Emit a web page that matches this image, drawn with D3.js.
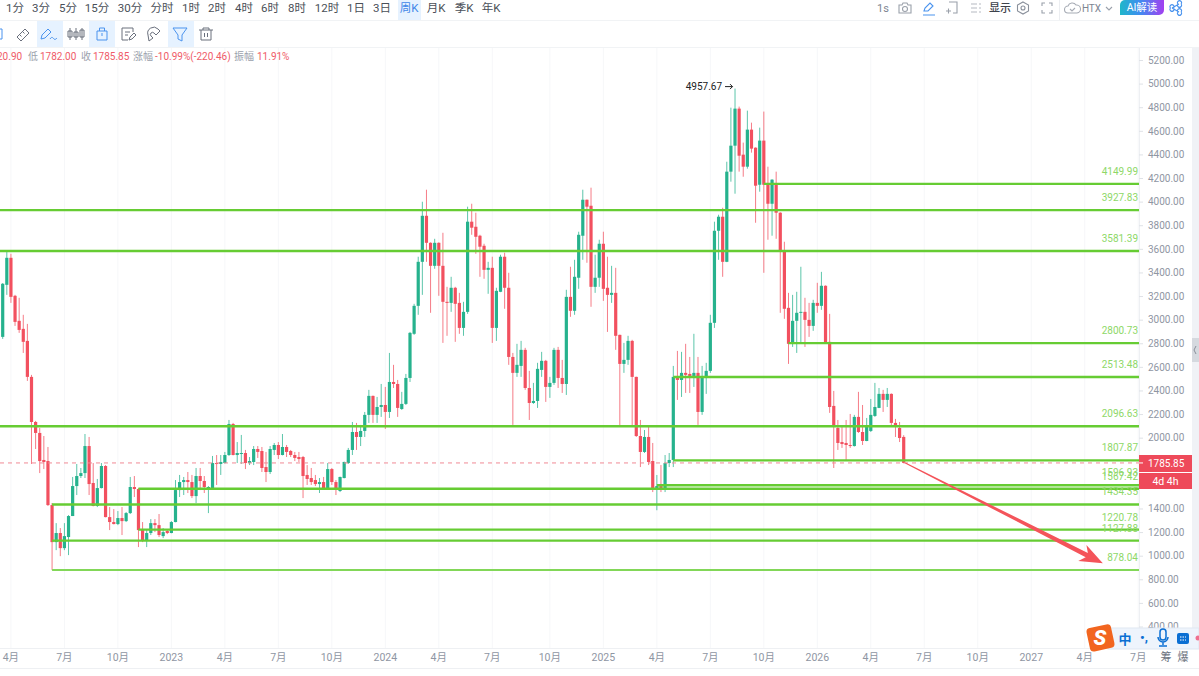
<!DOCTYPE html>
<html lang="zh">
<head>
<meta charset="utf-8">
<title>ETH 周K</title>
<script src="https://cdn.jsdelivr.net/npm/d3@7/dist/d3.min.js"></script>
<style>
html,body{margin:0;padding:0;background:#fff;overflow:hidden}
svg{display:block}
text{font-family:Roboto,"Noto Sans CJK SC",sans-serif}
</style>
</head>
<body>
<svg id="chart" width="1199" height="676"></svg>
<script>
// Weekly candles, oldest first
const opens = [
2854,3295,3524,3202,2990,2922,2820,2515,2133,2040,
1811,1802,1429,1115,1192,1064,1158,1336,1590,1675,
1700,1929,1616,1421,1573,1760,1327,1285,1268,1319,
1293,1361,1582,1565,1217,1132,1192,1276,1259,1166,
1209,1192,1285,1556,1624,1641,1624,1505,1675,1633,
1565,1573,1785,1777,1785,1853,2116,1853,1862,1870,
1785,1794,1904,1887,1751,1709,1896,1938,1853,1921,
1887,1853,1836,1836,1684,1658,1641,1607,1624,1573,
1734,1624,1548,1658,1785,1896,2048,2006,2057,2193,
2354,2193,2260,2277,2218,2472,2455,2243,2286,2506,
2880,3117,3490,3880,3651,3456,3651,3456,3151,3142,
3270,3142,2930,3066,3830,3787,3711,3626,3422,3439,
2930,3236,3533,3270,2684,2549,2608,2744,2421,2294,
2311,2574,2651,2430,2464,2744,2506,2455,3193,3075,
3355,3711,4016,3965,3278,3355,3643,3270,3210,3227,
2871,2625,2659,2820,2515,2014,1879,2006,1802,1573,
1590,1573,1785,1811,2515,2489,2549,2540,2523,2549,
2218,2515,2566,2973,3753,3872,3490,4254,4474,4788,
4398,4296,4610,4457,4143,4517,4152,3982,4152,3906,
3575,3100,2795,2990,3058,3066,2998,2947,3142,3117,
3287,2812,2269,2082,1963,1955,1938,1929,2176,2048,
1972,2057,2184,2252,2371,2320,2371,2125,2082,2006.31];
const closes = [
3304,3524,3193,2981,2913,2812,2515,2133,2040,1802,
1794,1429,1115,1192,1064,1166,1336,1590,1675,1700,
1929,1607,1421,1573,1760,1327,1285,1268,1319,1293,
1361,1582,1565,1217,1132,1192,1276,1259,1175,1200,
1192,1285,1556,1624,1641,1624,1505,1675,1633,1582,
1582,1785,1777,1794,1853,2116,1853,1870,1870,1785,
1802,1904,1879,1743,1709,1904,1938,1853,1921,1879,
1853,1828,1819,1675,1650,1624,1607,1624,1573,1734,
1624,1573,1667,1794,1896,2048,2006,2057,2193,2354,
2193,2260,2277,2218,2472,2455,2252,2286,2506,2888,
3117,3490,3880,3651,3456,3651,3456,3151,3142,3270,
3134,2930,3066,3830,3779,3702,3618,3422,3439,2930,
3244,3533,3270,2684,2549,2617,2744,2421,2294,2311,
2583,2651,2430,2464,2744,2506,2455,3193,3075,3363,
3719,4016,3957,3278,3355,3643,3261,3210,3227,2863,
2625,2659,2820,2515,2014,1879,2006,1794,1573,1590,
1573,1785,1811,2515,2489,2549,2532,2523,2549,2218,
2515,2566,2973,3753,3872,3490,4254,4474,4788,4389,
4296,4610,4449,4135,4517,4143,3982,4186,3906,3584,
3092,2795,2990,3058,3066,2998,2947,3142,3117,3287,
2803,2260,2099,1955,1946,1938,1929,2176,2048,1972,
2099,2193,2260,2371,2320,2371,2125,2099,1997,1785.85];
const highs = [
3310,3575,3558,3210,3185,3041,2964,2532,2142,2082,
2014,1921,1446,1276,1234,1276,1344,1667,1777,1743,
2031,2006,1785,1650,1785,1768,1412,1395,1378,1412,
1370,1667,1675,1573,1285,1226,1310,1310,1353,1234,
1226,1293,1641,1684,1667,1709,1684,1743,1743,1675,
1590,1845,1853,1853,1879,2150,2125,1963,2023,1896,
1836,1929,1929,1921,1879,1929,1955,1963,2031,1938,
1896,1879,1879,1845,1768,1743,1684,1658,1667,1785,
1743,1641,1670,1797,1913,2133,2125,2108,2218,2405,
2357,2345,2455,2430,2718,2617,2489,2388,2540,2896,
3134,3533,3999,4101,3655,3685,3655,3736,3278,3363,
3278,3227,3151,3957,3982,3906,3719,3643,3490,3533,
3270,3550,3567,3397,2718,2795,2820,2761,2566,2464,
2634,2727,2659,2515,2761,2769,2659,3253,3448,3507,
3745,4101,4018,4118,3550,3677,3745,3533,3456,3439,
2873,2803,2863,2829,2517,2150,2065,2099,1955,1684,
1768,1853,1870,2608,2735,2727,2795,2684,2880,2684,
2608,2634,3041,3830,3889,3948,4338,4796,4957.67,4805,
4500,4771,4669,4460,4627,4763,4296,4190,4254,3910,
3660,3227,3210,3236,3448,3185,3142,3168,3312,3405,
3290,3049,2396,2150,2091,2150,2201,2193,2388,2277,
2167,2328,2464,2421,2405,2421,2375,2159,2133,2020.90];
const lows = [
2837,3210,3142,2947,2888,2718,2481,1777,1904,1700,
1734,1421,878,1047,996,1047,1005,1336,1514,1658,
1658,1514,1418,1412,1570,1325,1217,1265,1259,1175,
1285,1353,1497,1073,1115,1073,1175,1200,1158,1149,
1183,1190,1283,1497,1514,1531,1488,1446,1556,1531,
1361,1570,1599,1684,1782,1845,1850,1785,1777,1734,
1768,1768,1828,1709,1624,1692,1853,1819,1850,1836,
1836,1802,1794,1488,1599,1599,1590,1531,1570,1570,
1599,1514,1539,1655,1777,1853,1896,1929,2006,2125,
2125,2125,2176,2074,2167,2421,2176,2235,2277,2472,
2871,3041,3210,3490,3058,3431,3202,2803,2863,3066,
2812,2880,2863,3049,3719,3558,3363,3346,3219,2803,
2820,3233,3092,2617,2108,2515,2515,2405,2150,2286,
2252,2515,2303,2337,2447,2421,2379,2362,3024,3041,
3261,3507,3482,3109,3227,3278,3159,2896,3142,2744,
2091,2549,2617,2091,2006,1751,1870,1768,1539,1385,
1539,1539,1751,1751,2320,2345,2379,2379,2430,2108,
2193,2371,2549,2930,3507,3363,3487,4169,4067,4254,
4211,4279,4415,3821,4084,3397,3677,3711,3685,3058,
3007,2625,2769,2718,2803,2769,2854,2905,3058,3083,
2800,2210,1743,1896,1913,1811,1913,1925,2040,1938,
1970,2048,2176,2250,2218,2260,2091,2006,1963,1782];

// Horizontal support and resistance levels, with the candle each one starts from
const levelPrices = [4149.99,3927.83,3581.39,2800.73,2513.48,2096.63,1807.87,1596.93,1567.42,1434.35,1220.78,1127.88,878.04];
const levelStarts = [185,null,null,191,163,null,163,159,33,12,33,12,12];

// Axis contents
const priceTicks = d3.range(400,5201,200);
const timeTickIndex = [2,15,28,41,54,67,80,93,106,119,133,146,159,172,185,198,211,224,237,250,263,276];
const timeTickLabels = ["4月","7月","10月","2023","4月","7月","10月","2024","4月","7月","10月","2025","4月","7月","10月","2026","4月","7月","10月","2027","4月","7月"];

// Readouts
const lastPrice = 1785.85;
const peakPrice = 4957.67;
const peakIndex = 178;
const countdown = "4d 4h";
const periods = ["1分","3分","5分","15分","30分","分时","1时","2时","4时","6时","8时","12时","1日","3日","周K","月K","季K","年K"];
const periodCenters = [15,41,68,97,130,162,191,217,244,270,297,327,356,382,409,436,464,491];
const readoutParts = ["20.90","低","1782.00","收","1785.85","涨幅","-10.99%(-220.46)","振幅","11.91%"];
const readoutStarts = [-3,28,40,81,93,133,155,234,257];

// Projected move drawn over the chart
const projection = {fromIndex:219.4, fromPrice:1785.85, toIndex:267.4, toPrice:935};

const svg = d3.select("#chart");
const plotRight = 1139, axisBottom = 648;
const UP = "#26b28d", DOWN = "#f2505f", LEVEL = "#66cc33", LEVEL_TEXT = "#8ed868", AXIS_TEXT = "#8f96a3";

const x = d3.scaleLinear().domain([0,219]).range([2.7,903.7]);
const y = d3.scaleLinear().domain([400,5200]).range([626.5,60]);

svg.append("defs").append("clipPath").attr("id","plot")
  .append("rect").attr("x",0).attr("y",48).attr("width",plotRight).attr("height",axisBottom-48);
svg.append("linearGradient").attr("id","aiGrad")
  .selectAll("stop").data([["0%","#1fb7c9"],["45%","#3f8df0"],["100%","#a33ff0"]]).join("stop")
  .attr("offset",d=>d[0]).attr("stop-color",d=>d[1]);

// Vertical grid
svg.append("g").selectAll("line").data(timeTickIndex).join("line")
  .attr("x1",d=>x(d)).attr("x2",d=>x(d)).attr("y1",48).attr("y2",axisBottom)
  .attr("stroke","#f6f7f9");

// Candles
const candles = d3.range(closes.length).map(i=>({i,o:opens[i],h:highs[i],l:lows[i],c:closes[i]}));
const plot = svg.append("g").attr("clip-path","url(#plot)");
const candle = plot.append("g").selectAll("g").data(candles).join("g")
  .attr("fill",d=>d.c>=d.o?UP:DOWN).attr("stroke",d=>d.c>=d.o?UP:DOWN);
candle.append("line")
  .attr("x1",d=>x(d.i)).attr("x2",d=>x(d.i))
  .attr("y1",d=>y(d.h)).attr("y2",d=>y(d.l))
  .attr("stroke-width",1).attr("stroke-opacity",0.75);
candle.append("rect")
  .attr("x",d=>x(d.i)-1.6).attr("width",3.2)
  .attr("y",d=>y(Math.max(d.o,d.c)))
  .attr("height",d=>Math.max(1,Math.abs(y(d.o)-y(d.c))))
  .attr("stroke","none");

// Last price line
plot.append("line").attr("x1",0).attr("x2",plotRight).attr("y1",y(lastPrice)).attr("y2",y(lastPrice))
  .attr("stroke","#f08a94").attr("stroke-dasharray","4 4").attr("stroke-width",1);

// Levels with their labels
const levels = levelPrices.map((p,k)=>({p,start:levelStarts[k]}));
const level = svg.append("g").selectAll("g").data(levels).join("g");
level.append("line")
  .attr("x1",d=>d.start===null?0:x(d.start)).attr("x2",plotRight)
  .attr("y1",d=>y(d.p)).attr("y2",d=>y(d.p))
  .attr("stroke",d=>d.p<900?"#82d758":LEVEL)
  .attr("stroke-width",d=>d.p<900?2:2.4);
level.append("text")
  .attr("x",plotRight-1).attr("y",d=>y(d.p)-9)
  .attr("text-anchor","end").attr("font-size",10).attr("fill",LEVEL_TEXT)
  .text(d=>d.p.toFixed(2));

// Peak marker
const peakLabel = svg.append("g").attr("transform",`translate(${x(peakIndex)-1},${y(peakPrice)})`);
peakLabel.append("text").attr("x",-12).attr("y",1.5).attr("text-anchor","end")
  .attr("font-size",10).attr("fill","#222").text(peakPrice.toFixed(2));
peakLabel.append("path").attr("d","M-9 -2H-1.500M-4 -4.500L-1.500 -2L-4 .5").attr("fill","none").attr("stroke","#222");

// Projected move: a wedge widening into an arrow head
{
  const a=[x(projection.fromIndex),y(projection.fromPrice)], b=[x(projection.toIndex),y(projection.toPrice)];
  const len=Math.hypot(b[0]-a[0],b[1]-a[1]), u=[(b[0]-a[0])/len,(b[1]-a[1])/len], n=[-u[1],u[0]];
  const at=(t,w)=>[a[0]+u[0]*t+n[0]*w,a[1]+u[1]*t+n[1]*w];
  const neck=len-18;
  const pts=[at(0,-.5),at(neck,-2.4),at(len-23,-9),b,at(len-23,9),at(neck,2.4),at(0,.5)];
  svg.append("polygon").attr("points",pts.map(p=>p.join(",")).join(" ")).attr("fill","#f4545a");
}

// Price axis
svg.append("rect").attr("x",plotRight).attr("y",48).attr("width",53).attr("height",600).attr("fill","#fff");
svg.append("line").attr("x1",plotRight+.5).attr("x2",plotRight+.5).attr("y1",48).attr("y2",axisBottom).attr("stroke","#eef0f3");
const axisY = svg.append("g").attr("transform",`translate(${plotRight},0)`)
  .call(d3.axisRight(y).tickValues(priceTicks).tickSize(4).tickPadding(5).tickFormat(d3.format(".2f")));
axisY.select(".domain").remove();
axisY.selectAll(".tick line").attr("stroke","#dfe2e7");
axisY.selectAll("text").attr("fill",AXIS_TEXT).attr("font-size",10).attr("font-family",'Roboto,"Noto Sans CJK SC",sans-serif');

// Last price tag and countdown
svg.append("rect").attr("x",plotRight).attr("y",455).attr("width",53).attr("height",17).attr("fill","#ee4a5a");
svg.append("line").attr("x1",plotRight).attr("x2",plotRight+4).attr("y1",y(lastPrice)).attr("y2",y(lastPrice)).attr("stroke","#fff");
svg.append("text").attr("x",plotRight+9).attr("y",467).attr("font-size",10).attr("fill","#fff").text(lastPrice.toFixed(2));
svg.append("rect").attr("x",plotRight).attr("y",473).attr("width",53).attr("height",16).attr("fill","#ee4a5a");
svg.append("text").attr("x",plotRight+26.5).attr("y",484.500).attr("text-anchor","middle").attr("font-size",10.500).attr("fill","#fff").text(countdown);

// Time axis
svg.append("rect").attr("x",0).attr("y",axisBottom).attr("width",1199).attr("height",28).attr("fill","#fff");
svg.append("line").attr("x1",0).attr("x2",1192).attr("y1",axisBottom+.5).attr("y2",axisBottom+.5).attr("stroke","#eef0f3");
svg.append("line").attr("x1",0).attr("x2",1199).attr("y1",668.5).attr("y2",668.5).attr("stroke","#eef0f3");
svg.append("g").selectAll("text").data(timeTickIndex).join("text")
  .attr("x",d=>x(d)).attr("y",661).attr("text-anchor","middle").attr("font-size",10.5)
  .attr("fill",AXIS_TEXT).text((d,k)=>timeTickLabels[k]);
svg.selectAll(null).data([["筹",1166],["爆",1183]]).join("text")
  .attr("x",d=>d[1]).attr("y",661).attr("text-anchor","middle").attr("font-size",11)
  .attr("fill","#6d7480").text(d=>d[0]);

// Narrow panel down the right edge
svg.append("rect").attr("x",1192).attr("y",48).attr("width",7).attr("height",600).attr("fill","#f0f2f6");
svg.append("rect").attr("x",1192).attr("y",338).attr("width",7).attr("height",24).attr("fill","#d5d9df");
svg.append("path").attr("d","M1196 346l-2 4l2 4").attr("fill","none").attr("stroke","#8a909a");

// Period selector
svg.append("rect").attr("x",0).attr("y",0).attr("width",1199).attr("height",47).attr("fill","#fff");
svg.append("line").attr("x1",0).attr("x2",1199).attr("y1",20.5).attr("y2",20.5).attr("stroke","#f1f3f5");
svg.append("line").attr("x1",0).attr("x2",1199).attr("y1",47.5).attr("y2",47.5).attr("stroke","#f1f3f5");
svg.append("rect").attr("x",398).attr("y",0).attr("width",23).attr("height",20).attr("fill","#e6f2ff");
svg.append("g").selectAll("text").data(periods).join("text")
  .attr("x",(d,k)=>periodCenters[k]).attr("y",12).attr("text-anchor","middle").attr("font-size",11.5)
  .attr("fill",d=>d==="周K"?"#3f87e8":"#4a4f58").text(d=>d);

// Drawing tools
[[37,26],[89,26],[168,26]].forEach(b=>svg.append("rect").attr("x",b[0]).attr("y",21).attr("width",b[1]).attr("height",26).attr("fill","#e6f2ff"));
const GREY="#6a707d", BLUE="#4a93ee";
const toolIcons = [
  [-8,34,BLUE,"M0 -5h10v10h-10z"],
  [23,34,GREY,"M-6 3l8 -8l4 4l-8 8zM-3 1l1.500 1.500M0 -2l1.500 1.500"],
  [49,34,BLUE,"M-8 5l1 -4l6 -6l3 3l-6 6zM1 5c2 -3 3 -1 4 0s2 0 3 -1"],
  [76,34,GREY,"M-6 -6v12M-8 -3h4v6h-4zM0 -6v12M-2 -2h4v5h-4zM6 -6v12M4 -4h4v7h-4z"],
  [102,34,BLUE,"M-5 -3h10v9h-10zM-2.500 -3v-3h5v3M0 -1v3"],
  [128,34,GREY,"M-6 -6h11v4M-6 -6v12h6M-3 -2h5M-3 1h3M1 6l1 -3l4 -4l2 2l-4 4z"],
  [154,34,GREY,"M-6 1a6 6 0 0 1 10 -6l2 2l-4 4l-2 -2a2 2 0 0 0 -3 3l2 2l-4 3z"],
  [180,34,BLUE,"M-7 -6h14l-5 7v6l-4 -2v-4z"],
  [206,34,GREY,"M-7 -4h14M-3 -4v-2h6v2M-5 -4v10h10v-10M-1.500 -1v4M1.500 -1v4"]
];
svg.append("g").selectAll("path").data(toolIcons).join("path")
  .attr("transform",d=>`translate(${d[0]},${d[1]})`).attr("d",d=>d[3])
  .attr("fill","none").attr("stroke",d=>d[2]).attr("stroke-width",1);

// Candle readout, continuing past the left edge
svg.append("g").selectAll("text").data(readoutParts).join("text")
  .attr("x",(d,k)=>readoutStarts[k]).attr("y",60).attr("font-size",10)
  .attr("fill",(d,k)=>/[低收涨振]/.test(d)?"#9aa1ac":"#ef5b68").text(d=>d);

// Right end of the top bar
svg.append("text").attr("x",883).attr("y",12).attr("text-anchor","middle").attr("font-size",11).attr("fill","#7d8592").text("1s");
svg.append("text").attr("x",1000).attr("y",12).attr("text-anchor","middle").attr("font-size",11).attr("fill","#3d424b").attr("font-weight",500).text("显示");
svg.append("text").attr("x",1091.5).attr("y",12).attr("text-anchor","middle").attr("font-size",10).attr("fill","#7d8592").text("HTX");
svg.append("line").attr("x1",1059.5).attr("x2",1059.5).attr("y1",0).attr("y2",20).attr("stroke","#eceef1");
svg.append("path").attr("d","M1120 15V5a5 5 0 0 1 5 -5h39v10a5 5 0 0 1 -5 5z").attr("fill","url(#aiGrad)");
svg.append("text").attr("x",1142).attr("y",11).attr("text-anchor","middle").attr("font-size",10.5).attr("fill","#fff").text("AI解读");
const topIcons = [
  [905,8,"#9aa0aa","M-6 -3h3l1 -2h4l1 2h3v8h-12zM2.500 1a2.500 2.500 0 1 1 -5 0a2.500 2.500 0 1 1 5 0"],
  [929,8,"#4a93ee","M-5 3l1 -3l5 -5l3 3l-5 5zM-6 7h12"],
  [952,8,"#9aa0aa","M-3 -6h8v11h-4M-6 3h5M-3.500 0.500v5"],
  [976,8,"#b5bac2","M-5 -4h6M-5 0h6M-5 4h6M3 -4h2M3 0h2M3 4h2"],
  [1023,8,"#8a909b","M0 -6l5.500 3v6l-5.500 3l-5.500 -3v-6zM2 0a2 2 0 1 1 -4 0a2 2 0 1 1 4 0"],
  [1047,8,"#9aa0aa","M-5 -2v-3h3M5 -2v-3h-3M-5 2v3h3M5 2v3h-3"],
  [1072,8,"#a6abb4","M-4 5a3.500 3.500 0 0 1 0 -7a4.500 4.500 0 0 1 8 -1a4 4 0 0 1 1 8zM-2 1l2 2l3 -3"],
  [1109,8,"#9aa0aa","M-3 -1l3 3l3 -3"],
  [1176,8,"#4a93ee","M-4 0l7 -4M-4 0l7 4M-2.500 0a2 2 0 1 1 -3 0a2 2 0 1 1 3 0M5 -4a2 2 0 1 1 -3 0a2 2 0 1 1 3 0M5 4a2 2 0 1 1 -3 0a2 2 0 1 1 3 0"]
];
svg.append("g").selectAll("path").data(topIcons).join("path")
  .attr("transform",d=>`translate(${d[0]},${d[1]})`).attr("d",d=>d[3])
  .attr("fill","none").attr("stroke",d=>d[2]).attr("stroke-width",1.1);

// Floating input method bar
const ime = svg.append("g");
ime.append("rect").attr("x",1108).attr("y",628).attr("width",91).attr("height",21).attr("fill","#eef4fc").attr("stroke","#dfe7f2");
ime.append("rect").attr("x",1088).attr("y",626).attr("width",25).attr("height",24).attr("rx",4)
  .attr("fill","#f2651f").attr("transform","rotate(-12 1100 638)");
ime.append("text").attr("x",1100).attr("y",645).attr("text-anchor","middle").attr("font-size",21).attr("font-weight",900).attr("font-style","italic").attr("fill","#fff").text("S");
ime.append("text").attr("x",1125).attr("y",644).attr("text-anchor","middle").attr("font-size",13).attr("font-weight",700).attr("fill","#0b6fd3").text("中");
ime.append("text").attr("x",1144).attr("y",642).attr("text-anchor","middle").attr("font-size",13).attr("font-weight",700).attr("fill","#0b6fd3").text("•,");
ime.append("path").attr("d","M1160 632a3 3 0 0 1 6 0v5a3 3 0 0 1 -6 0zM1158 637a5 5 0 0 0 10 0M1163 642v3M1159 646h8").attr("fill","none").attr("stroke","#0b6fd3").attr("stroke-width",1.5);
ime.append("rect").attr("x",1177).attr("y",633).attr("width",12).attr("height",11).attr("rx",2).attr("fill","#0b6fd3");
ime.append("path").attr("d","M1180 637h6M1180 640h6").attr("stroke","#fff").attr("stroke-dasharray","1.500 1");
ime.append("circle").attr("cx",1198).attr("cy",638).attr("r",2.5).attr("fill","#ef6f8f");
</script>
</body>
</html>
